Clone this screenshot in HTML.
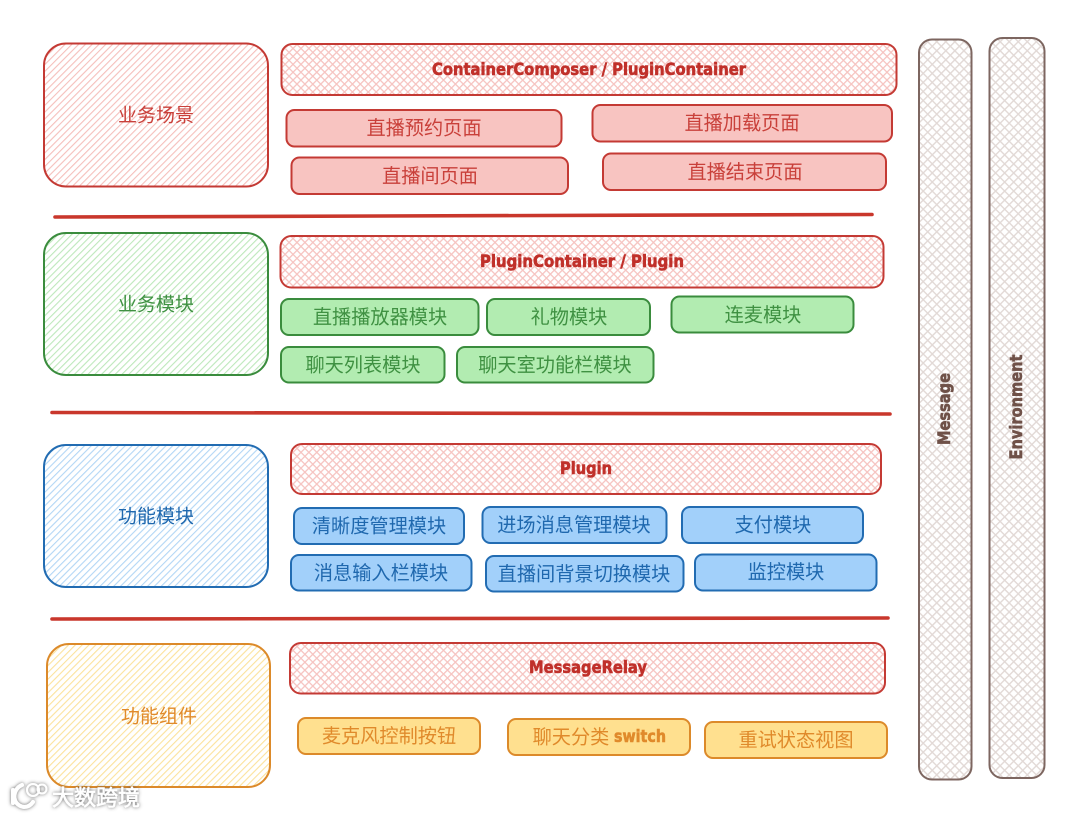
<!DOCTYPE html>
<html><head><meta charset="utf-8"><style>
html,body{margin:0;padding:0;background:#fff}
svg{display:block}
text{font-family:"Liberation Sans","Noto Sans CJK SC",sans-serif;text-anchor:middle;dominant-baseline:central}
text.b{font-family:"DejaVu Sans","Noto Sans CJK SC",sans-serif;font-weight:bold;stroke-width:.6;paint-order:stroke}
</style></head><body>
<svg width="1080" height="817" viewBox="0 0 1080 817" xmlns="http://www.w3.org/2000/svg">
<defs>
<pattern id="hr" width="4.800" height="4.800" patternUnits="userSpaceOnUse" patternTransform="rotate(45)"><rect width="1.100" height="4.800" fill="#f5bfbb"/></pattern>
<pattern id="hg" width="4.800" height="4.800" patternUnits="userSpaceOnUse" patternTransform="rotate(45)"><rect width="1.100" height="4.800" fill="#bde8bb"/></pattern>
<pattern id="hb" width="4.800" height="4.800" patternUnits="userSpaceOnUse" patternTransform="rotate(45)"><rect width="1.100" height="4.800" fill="#b2d6f5"/></pattern>
<pattern id="hy" width="4.800" height="4.800" patternUnits="userSpaceOnUse" patternTransform="rotate(45)"><rect width="1.100" height="4.800" fill="#fbe29c"/></pattern>
<pattern id="xr" width="5.600" height="5.600" patternUnits="userSpaceOnUse" patternTransform="rotate(45)"><rect width="1.300" height="5.600" fill="#f6c4c1"/><rect width="5.600" height="1.300" fill="#f6c4c1"/></pattern>
<pattern id="xm" width="6.400" height="6.400" patternUnits="userSpaceOnUse" patternTransform="rotate(45)"><rect width="1.400" height="6.400" fill="#e2d9d6"/><rect width="6.400" height="1.400" fill="#e2d9d6"/></pattern>
<filter id="sh" x="-20%" y="-40%" width="140%" height="180%"><feDropShadow dx="0" dy="0" stdDeviation="1.800" flood-color="#444" flood-opacity=".85"/></filter>
</defs>

<!-- left panels -->
<g stroke-width="2">
<rect x="44" y="43.500" width="224" height="143" rx="22" fill="url(#hr)" stroke="#c43a34"/>
<rect x="44" y="233" width="224" height="142" rx="22" fill="url(#hg)" stroke="#3a8c3d"/>
<rect x="44" y="445" width="224" height="142" rx="22" fill="url(#hb)" stroke="#226cb2"/>
<rect x="47" y="644" width="223" height="143" rx="22" fill="url(#hy)" stroke="#dc8a2a"/>
</g>
<g font-size="19" transform="translate(0 1)">
<text x="156" y="115" fill="#c9403a">业务场景</text>
<text x="156" y="304" fill="#3f9142">业务模块</text>
<text x="156" y="516" fill="#1f68ae">功能模块</text>
<text x="159" y="716" fill="#e08a2b">功能组件</text>
</g>

<!-- hatched headers -->
<g fill="url(#xr)" stroke="#c43a34" stroke-width="2">
<rect x="281.500" y="44" width="615" height="51" rx="11"/>
<rect x="280.500" y="236" width="603" height="51.500" rx="11"/>
<rect x="291" y="444" width="590" height="50" rx="11"/>
<rect x="290" y="643" width="595" height="50.500" rx="11"/>
</g>
<g font-size="17" fill="#c0302a" stroke="#c0302a">
<text class="b" x="589" y="70" textLength="314" lengthAdjust="spacingAndGlyphs">ContainerComposer / PluginContainer</text>
<text class="b" x="582" y="262" textLength="204" lengthAdjust="spacingAndGlyphs">PluginContainer / Plugin</text>
<text class="b" x="586" y="469" textLength="52" lengthAdjust="spacingAndGlyphs">Plugin</text>
<text class="b" x="588" y="668" textLength="118" lengthAdjust="spacingAndGlyphs">MessageRelay</text>
</g>

<!-- red boxes -->
<g fill="#f8c4c1" stroke="#c43a34" stroke-width="2">
<rect x="286.500" y="110" width="275" height="36.500" rx="8"/>
<rect x="592.500" y="105" width="299.500" height="36.500" rx="8"/>
<rect x="291.500" y="157.500" width="276.500" height="36.500" rx="8"/>
<rect x="603" y="153.500" width="283" height="36.500" rx="8"/>
</g>
<g font-size="19.200" fill="#c9403a" transform="translate(0 1)">
<text x="424" y="128">直播预约页面</text>
<text x="742" y="123">直播加载页面</text>
<text x="430" y="176">直播间页面</text>
<text x="745" y="172">直播结束页面</text>
</g>

<!-- green boxes -->
<g fill="#b2ecb1" stroke="#3a8c3d" stroke-width="2">
<rect x="281" y="299" width="197.500" height="36" rx="8"/>
<rect x="487" y="299" width="163" height="36" rx="8"/>
<rect x="671.500" y="296.500" width="182" height="36" rx="8"/>
<rect x="281" y="347" width="163.500" height="35.500" rx="8"/>
<rect x="457" y="347" width="196.500" height="35.500" rx="8"/>
</g>
<g font-size="19.200" fill="#3f9142" transform="translate(0 1)">
<text x="380" y="317">直播播放器模块</text>
<text x="569" y="317">礼物模块</text>
<text x="763" y="315">连麦模块</text>
<text x="363" y="365">聊天列表模块</text>
<text x="555" y="365">聊天室功能栏模块</text>
</g>

<!-- blue boxes -->
<g fill="#a2d0fa" stroke="#226cb2" stroke-width="2">
<rect x="294" y="508" width="170" height="36" rx="8"/>
<rect x="482.500" y="507" width="184" height="36" rx="8"/>
<rect x="682" y="507" width="181" height="36" rx="8"/>
<rect x="291" y="555" width="180.500" height="35.500" rx="8"/>
<rect x="486" y="556" width="197.500" height="35.500" rx="8"/>
<rect x="695" y="554.500" width="181.500" height="36" rx="8"/>
</g>
<g font-size="19.200" fill="#1f68ae" transform="translate(0 1)">
<text x="379" y="526">清晰度管理模块</text>
<text x="574" y="525">进场消息管理模块</text>
<text x="773" y="525">支付模块</text>
<text x="381" y="573">消息输入栏模块</text>
<text x="584" y="574">直播间背景切换模块</text>
<text x="786" y="572">监控模块</text>
</g>

<!-- yellow boxes -->
<g fill="#ffe08f" stroke="#dc8a2a" stroke-width="2">
<rect x="298" y="718" width="182" height="36" rx="8"/>
<rect x="508" y="719" width="182" height="36" rx="8"/>
<rect x="705" y="722" width="182" height="36" rx="8"/>
</g>
<g font-size="19.200" fill="#e08a2b" transform="translate(0 1)">
<text x="389" y="736">麦克风控制按钮</text>
<text x="571" y="737">聊天分类</text>
<text class="b" x="640" y="736" font-size="17" stroke="#e08a2b" textLength="52" lengthAdjust="spacingAndGlyphs">switch</text>
<text x="796" y="740">重试状态视图</text>
</g>

<!-- dividers -->
<g stroke="#c9372c" stroke-width="3.600" fill="none" stroke-linecap="round">
<path d="M55 217 L872 214.500"/>
<path d="M52 412.500 L890 414"/>
<path d="M52 619 L888 618"/>
</g>

<!-- right columns -->
<g fill="url(#xm)" stroke="#7d6660" stroke-width="2">
<rect x="919" y="39.500" width="52.500" height="740" rx="13"/>
<rect x="989.500" y="38" width="55" height="740" rx="13"/>
</g>
<g font-size="17" fill="#6f5148" stroke="#6f5148">
<text class="b" transform="translate(945 409) rotate(-90)" textLength="72" lengthAdjust="spacingAndGlyphs">Message</text>
<text class="b" transform="translate(1017 407) rotate(-90)" textLength="105" lengthAdjust="spacingAndGlyphs">Environment</text>
</g>

<!-- watermark -->
<g filter="url(#sh)">
<path d="M13 790 V803 M22 785 C12 789 11 805 24 807 C28 807 31 805 33 802" stroke="#fff" stroke-width="4" fill="none" stroke-linecap="round"/>
<circle cx="33" cy="790" r="6" fill="none" stroke="#fff" stroke-width="2"/>
<circle cx="42" cy="789" r="4.500" fill="none" stroke="#fff" stroke-width="2"/>
<text x="96" y="798" font-size="22" fill="#fff" stroke="#fff" stroke-width=".6">大数跨境</text>
</g>
</svg>
</body></html>
